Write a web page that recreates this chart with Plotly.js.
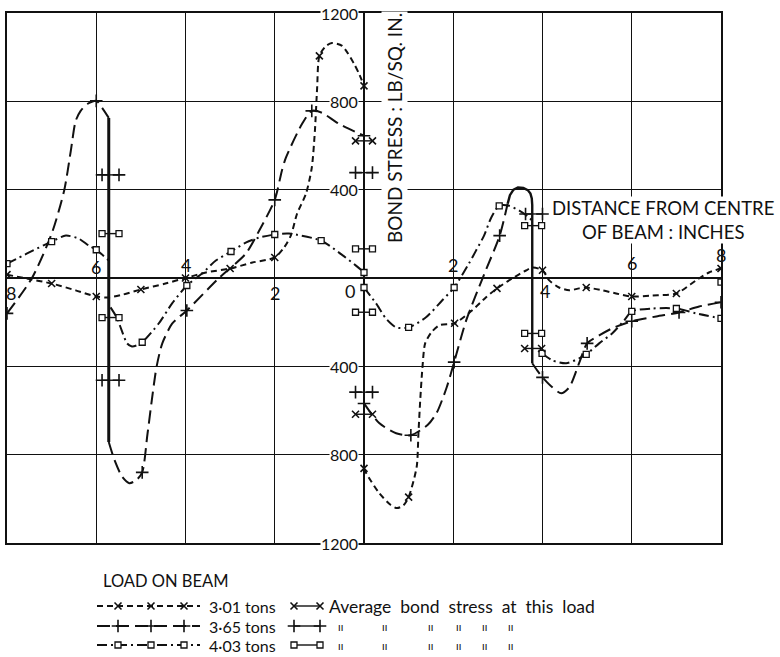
<!DOCTYPE html>
<html><head><meta charset="utf-8">
<script src="https://cdn.plot.ly/plotly-3.0.1.min.js"></script>
<style>body{margin:0;background:#fff}#chart{width:780px;height:657px}</style>
</head><body><div id="chart"></div>
<script>
// ---------- DATA ----------
// 3.01 tons  (short dashes, x markers)
const A1_x = [-8, -7.5, -7, -6.46, -6, -5.72, -5.4, -5, -4.45, -4, -3.54, -3, -2.5, -2, -1.79, -1.64, -1.5, -1.3, -1.17, -1.1, -1.05, -1, -0.85, -0.72, -0.49, -0.22, -0.1, 0];
const A1_y = [15, -5, -25, -56, -84, -88, -75, -52, -25, 0, 25, 43, 70, 93, 138, 192, 291, 382, 500, 667, 861, 1006, 1051, 1064, 1051, 969, 920, 870];
const A2_x = [0, 0.05, 0.34, 0.6, 0.74, 0.88, 1.0, 1.18, 1.22, 1.26, 1.31, 1.37, 1.51, 1.69, 2.03, 2.42, 2.73, 2.98, 3.32, 3.63, 3.78, 4.0, 4.15, 4.37, 4.6, 4.82, 4.98, 5.34, 5.65, 6.0, 6.46, 7.0, 7.44, 7.73, 8];
const A2_y = [-862, -884, -974, -1028, -1042, -1030, -992, -856, -703, -553, -404, -296, -246, -214, -205, -147, -88, -47, -2, 34, 47, 35, -11, -43, -56, -47, -43, -56, -70, -84, -79, -70, -11, 25, 43];
const A_mx = [-8, -7, -6, -5, -4, -3, -2, -1, 0, 0, 1, 2.03, 2.98, 4, 4.98, 6, 7, 8];
const A_my = [15, -25, -84, -52, 0, 43, 93, 1006, 870, -862, -992, -205, -47, 35, -43, -84, -70, 43];

// 3.65 tons  (long dashes, + markers)
const B1_x = [-8, -7.44, -7.0, -6.72, -6.57, -6.46, -6.35, -6.2, -6.0, -5.87, -5.72];
const B1_y = [-160, 0, 200, 395, 576, 712, 757, 788, 802, 771, 725];
const B2_x = [-5.72, -5.59, -5.42, -5.26, -5.1, -4.97, -4.85, -4.65, -4.52, -4.3, -3.97, -3.25, -2.65, -2.35, -2.0, -1.84, -1.75, -1.39, -1.17, -0.94, -0.56, 0];
const B2_y = [-743, -825, -900, -929, -915, -880, -703, -404, -296, -207, -147, 0, 110, 214, 354, 486, 545, 697, 757, 748, 698, 644];
const B3_x = [0, 0.34, 0.72, 1.05, 1.43, 1.63, 1.85, 2.02, 2.29, 2.7, 3.04, 3.22];
const B3_y = [-568, -657, -703, -712, -665, -610, -497, -381, -192, 20, 192, 337];
const B4_x = [3.77, 3.88, 4.0, 4.22, 4.42, 4.6, 4.82, 5.0, 5.27, 5.56, 6.0, 6.55, 7.06, 7.51, 8];
const B4_y = [-386, -418, -450, -495, -522, -495, -386, -296, -260, -228, -196, -174, -156, -129, -110];
const B_mx = [-8, -6, -4.97, -3.97, -2, -1.17, 0, 0, 1.05, 2.02, 3.04, 4.0, 5.0, 6.0, 7.06, 8];
const B_my = [-160, 802, -880, -147, 354, 757, 644, -568, -712, -381, 192, -450, -296, -196, -156, -110];
// solid jumps of the 3.65-ton curve at the cracks
const K1_x = [-5.72, -5.72];
const K1_y = [725, -743];
const K2_x = [3.22, 3.27, 3.35, 3.45, 3.57, 3.67, 3.73, 3.76, 3.77, 3.77];
const K2_y = [337, 375, 400, 410, 408, 398, 382, 360, 330, -386];

// 4.03 tons  (dash-dot, square markers)
const C1_x = [-8, -7.56, -7.0, -6.68, -6.39, -6.17, -6.0, -5.72];
const C1_y = [65, 110, 165, 192, 178, 147, 128, 79];
const C2_x = [-5.68, -5.54, -5.43, -5.31, -5.2, -5.09, -4.97, -4.6, -4.3, -3.97, -3.63, -3.32, -2.98, -2.65, -2.35, -2.0, -1.68, -0.96, -0.56, -0.18, 0];
const C2_y = [-133, -179, -237, -296, -310, -305, -291, -206, -115, -34, 20, 79, 120, 160, 183, 197, 201, 169, 115, 56, 25];
const C3_x = [0, 0.27, 0.49, 0.72, 1.0, 1.39, 1.75, 2.02, 2.35, 2.51, 2.69, 2.85, 3.03, 3.25, 3.48, 3.65, 3.77];
const C3_y = [-43, -115, -183, -224, -224, -178, -102, -43, 65, 124, 192, 273, 327, 327, 305, 282, 260];
const C4_x = [3.99, 4.22, 4.53, 4.82, 4.98, 5.27, 5.56, 5.83, 6.0, 6.46, 7.0, 7.44, 8];
const C4_y = [-341, -373, -386, -364, -346, -296, -251, -192, -151, -138, -138, -160, -183];
const C_mx = [-8, -7, -6, -4.97, -3.97, -2.98, -2.0, -0.96, 0, 0, 1.0, 2.02, 3.03, 3.99, 4.98, 6.0, 7.0, 8, 8];
const C_my = [65, 165, 128, -291, -34, 120, 197, 169, 25, -43, -224, -43, 327, -341, -346, -151, -138, -183, -19];

// average bond stress at each load (short bars across the cracks)
const avgA_pos = [0, 0, 3.79];
const avgA_val = [621, -617, -319];
const avgB_pos = [-5.68, -5.68, 0, 0, 3.81];
const avgB_val = [467, -463, 477, -517, 290];
const avgC_pos = [-5.68, -5.68, 0, 0, 3.79, 3.79];
const avgC_val = [201, -179, 132, -155, 237, -251];

// labels
const xTickVals = [-8, -6, -4, -2, 0, 2, 4, 6, 8];
const xTickText = ['8', '6', '4', '2', '0', '2', '4', '6', '8'];
const yTickVals = [1200, 800, 400, -400, -800, -1200];
const yTickText = ['1200', '800', '400', '400', '800', '1200'];
const loads = ['3·01 tons', '3·65 tons', '4·03 tons'];
const avgText = 'Average\u00a0 bond\u00a0 stress\u00a0 at\u00a0 this\u00a0 load';

// ---------- STYLE / LAYOUT ----------
const W = 780, H = 657;
const PL = 7, PR = 721, PT = 13, PB = 543;
const INK = '#111';
const FONT = 'Lato, "Open Sans", sans-serif';
const DASH_A = '6px,4px', DASH_B = '13px,6px', DASH_C = '10px,4px,2px,4px';
const HW = 0.19; // half width of average bars (inches)

function line(xs, ys, dash, w, xa, ya, shape) {
  return {x: xs, y: ys, mode: 'lines', xaxis: xa || 'x', yaxis: ya || 'y',
    line: {color: INK, width: w || 2, dash: dash, shape: shape || 'spline', smoothing: 0.7},
    hoverinfo: 'skip', showlegend: false};
}
const MK = {
  A: {symbol: 'x-thin-open', size: 7, color: INK, line: {color: INK, width: 1.6}},
  B: {symbol: 'cross-thin-open', size: 9, color: INK, line: {color: INK, width: 1.6}},
  C: {symbol: 'square', size: 6, color: '#fff', line: {color: INK, width: 1.3}}
};
function marks(xs, ys, m, xa, ya) {
  return {x: xs, y: ys, mode: 'markers', xaxis: xa || 'x', yaxis: ya || 'y', marker: m, hoverinfo: 'skip', showlegend: false};
}
function bars(pos, val, m) {
  const xs = [], ys = [];
  pos.forEach((p, i) => { xs.push(p - HW, p + HW, null); ys.push(val[i], val[i], null); });
  return {x: xs, y: ys, mode: 'lines+markers', marker: m, line: {color: INK, width: 1.4},
    hoverinfo: 'skip', showlegend: false, connectgaps: false};
}

const traces = [
  line(A1_x, A1_y, DASH_A), line(A2_x, A2_y, DASH_A),
  line(B1_x, B1_y, DASH_B), line(B2_x, B2_y, DASH_B), line(B3_x, B3_y, DASH_B), line(B4_x, B4_y, DASH_B),
  line(K1_x, K1_y, 'solid', 3, 'x', 'y', 'linear'), line(K2_x, K2_y, 'solid', 2.4, 'x', 'y', 'linear'),
  line(C1_x, C1_y, DASH_C), line(C2_x, C2_y, DASH_C), line(C3_x, C3_y, DASH_C), line(C4_x, C4_y, DASH_C),
  marks(A_mx, A_my, MK.A), marks(B_mx, B_my, MK.B), marks(C_mx, C_my, MK.C),
  bars(avgA_pos, avgA_val, MK.A), bars(avgB_pos, avgB_val, MK.B), bars(avgC_pos, avgC_val, MK.C)
];

// ---------- legend (drawn in a pixel-scaled helper subplot) ----------
const rowY = [606, 626, 645];
const legDash = [DASH_A, DASH_B, DASH_C];
const legMk = [MK.A, MK.B, MK.C];
const sampleX0 = 97, sampleX1 = 200, markPos = [118, 151, 184];
const avgX0 = 294, avgX1 = 320;
rowY.forEach((ry, i) => {
  traces.push(line([sampleX0, sampleX1], [ry, ry], legDash[i], 1.8, 'x2', 'y2', 'linear'));
  traces.push(marks(markPos, markPos.map(() => ry), legMk[i], 'x2', 'y2'));
  traces.push({x: [avgX0, avgX1], y: [ry, ry], mode: 'lines+markers', xaxis: 'x2', yaxis: 'y2',
    line: {color: INK, width: 1.4}, marker: legMk[i], hoverinfo: 'skip', showlegend: false});
});

const ann = [];
const px = v => v / W, py = v => 1 - v / H;
function paperText(x, y, text, size, xanchor, extra) {
  return Object.assign({x: px(x), y: py(y), xref: 'paper', yref: 'paper', text: text, showarrow: false,
    xanchor: xanchor || 'center', yanchor: 'middle', font: {family: FONT, size: size, color: INK}}, extra || {});
}
// y tick labels along the central axis
yTickVals.forEach((v, i) => ann.push({x: 0, y: v, xref: 'x', yref: 'y', text: yTickText[i], showarrow: false,
  xanchor: 'right', yanchor: 'middle', xshift: -5, bgcolor: '#fff', borderpad: 0, font: {family: FONT, size: 16, color: INK}}));
// x tick labels placed along the zero line
const xShiftY = [-15, 11, 13, -15, -13, 13, -13, 15, 23];
const xShiftX = [4, 0, 0, 0, -14, 0, 2, 0, 0];
xTickVals.forEach((v, i) => ann.push({x: v, y: 0, xref: 'x', yref: 'y', text: xTickText[i], showarrow: false,
  xanchor: 'center', yanchor: 'middle', yshift: xShiftY[i], xshift: xShiftX[i], font: {family: FONT, size: 18, color: INK}}));
// axis titles
ann.push(paperText(394, 128, 'BOND STRESS : LB/SQ. IN.', 19, 'center', {textangle: -90, bgcolor: '#fff'}));
ann.push(paperText(663, 220, 'DISTANCE FROM CENTRE<br>OF BEAM : INCHES', 18.5, 'center', {bgcolor: '#fff', align: 'center', borderpad: 0}));
// legend texts
ann.push(paperText(101, 581, 'LOAD ON BEAM', 16.5, 'left'));
rowY.forEach((ry, i) => ann.push(paperText(207, ry, loads[i], 16, 'left')));
ann.push(paperText(327, rowY[0], avgText, 17.5, 'left'));
const dittoX = [340, 384, 430, 458, 484, 510];
[rowY[1], rowY[2]].forEach(ry => dittoX.forEach(dx => ann.push(paperText(dx, ry, 'ıı', 11, 'center'))));

const layout = {
  width: W, height: H, margin: {l: 0, r: 0, t: 0, b: 0},
  paper_bgcolor: '#fff', plot_bgcolor: 'rgba(0,0,0,0)', showlegend: false,
  xaxis: {domain: [PL / W, PR / W], range: [-8, 8], dtick: 2, tick0: 0, showgrid: true, gridcolor: INK, gridwidth: 1.3,
    zeroline: true, zerolinecolor: INK, zerolinewidth: 2.6, showline: true, mirror: true, linecolor: INK, linewidth: 1.6,
    showticklabels: false, ticks: '', fixedrange: true},
  yaxis: {domain: [1 - PB / H, 1 - PT / H], range: [-1200, 1200], dtick: 400, tick0: 0, showgrid: true, gridcolor: INK, gridwidth: 1.3,
    zeroline: true, zerolinecolor: INK, zerolinewidth: 2.6, showline: true, mirror: true, linecolor: INK, linewidth: 1.6,
    showticklabels: false, ticks: '', fixedrange: true},
  xaxis2: {domain: [0, 1], range: [0, W], visible: false, anchor: 'y2', fixedrange: true},
  yaxis2: {domain: [0, 100 / H], range: [H, H - 100], visible: false, anchor: 'x2', fixedrange: true},
  annotations: ann
};
Plotly.newPlot('chart', traces, layout, {staticPlot: true, displayModeBar: false});
</script></body></html>
